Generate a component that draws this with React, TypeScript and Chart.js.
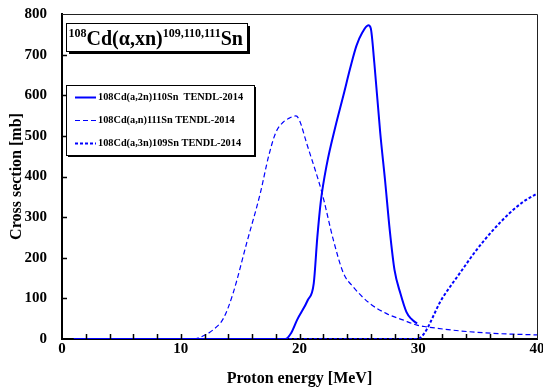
import React, { useEffect, useRef } from "react";
import { Chart, registerables } from "chart.js";

Chart.register(...registerables);

// (a,2n)110Sn – solid
const energy2n = [1, 18.8, 19.3, 19.8, 20.7, 21.2, 21.5, 21.8, 22.3, 23.0, 23.7, 24.3, 24.8, 25.3, 25.8, 26.0, 26.3, 26.8, 27.2, 27.6, 28.0, 28.5, 29.0, 29.4, 29.9];
const sigma2n = [0, 0, 15, 47, 96, 137, 250, 340, 430, 520, 600, 670, 722, 755, 772, 765, 680, 507, 392, 268, 170, 112, 67, 50, 38];

// (a,n)111Sn – dashed
const energy1n = [1, 10.8, 11.6, 12.7, 13.6, 14.4, 15.55, 16.7, 17.4, 18.0, 18.6, 19.1, 19.7, 20.0, 20.6, 21.9, 22.85, 23.7, 24.5, 25.9, 27.3, 28.7, 29.9, 30.7, 33.5, 36.3, 40];
const sigma1n = [0, 0, 4, 22, 51, 112, 236, 359, 450, 508, 533, 543, 549, 538, 482, 359, 244, 162, 129, 88, 63, 47, 34, 30, 20, 14, 10];

// (a,3n)109Sn – dotted
const energy3n = [1, 29.9, 32.1, 33.5, 34.9, 36.3, 37.7, 38.85, 40];
const sigma3n = [0, 0, 104, 162, 219, 268, 310, 338, 358];

const legendLabels = [
  "108Cd(a,2n)110Sn  TENDL-2014",
  "108Cd(a,n)111Sn TENDL-2014",
  "108Cd(a,3n)109Sn TENDL-2014",
];

const xTitle = "Proton energy [MeV]";
const yTitle = "Cross section [mb]";

const SERIF = "'Liberation Serif', 'Times New Roman', serif";
const BLUE = "#0000ff";

const toPts = (xs: number[], ys: number[]) => xs.map((x, i) => ({ x, y: ys[i] }));

const decorPlugin = {
  id: "decor",
  afterDraw(chart: any) {
    const ctx: CanvasRenderingContext2D = chart.ctx;
    const { left, right, top, bottom } = chart.chartArea;
    const xs = chart.scales.x;
    const ys = chart.scales.y;
    ctx.save();
    // top & right frame
    ctx.strokeStyle = "#222";
    ctx.lineWidth = 1;
    ctx.beginPath();
    ctx.moveTo(left, top + 0.5);
    ctx.lineTo(right + 0.5, top + 0.5);
    ctx.lineTo(right + 0.5, bottom);
    ctx.stroke();
    // inward ticks
    ctx.strokeStyle = "#000";
    ctx.lineWidth = 1.5;
    ctx.beginPath();
    for (let v = 2; v < 40; v += 2) {
      const px = Math.round(xs.getPixelForValue(v)) + 0.5;
      ctx.moveTo(px, bottom);
      ctx.lineTo(px, bottom - 5);
    }
    for (let v = 100; v < 800; v += 100) {
      const py = Math.round(ys.getPixelForValue(v)) + 0.5;
      ctx.moveTo(left, py);
      ctx.lineTo(left + 5, py);
    }
    ctx.stroke();

    // title box
    const tb = { x: 66, y: 23, w: 181, h: 28 };
    ctx.fillStyle = "#000";
    ctx.fillRect(tb.x + 3, tb.y + 3, tb.w, tb.h);
    ctx.fillStyle = "#fff";
    ctx.fillRect(tb.x, tb.y, tb.w, tb.h);
    ctx.strokeStyle = "#000";
    ctx.lineWidth = 1;
    ctx.strokeRect(tb.x + 0.5, tb.y + 0.5, tb.w, tb.h);
    const parts: [string, number, number][] = [
      ["108", 12, -8],
      ["Cd(", 20, 0],
      ["\u03B1", 20, 0],
      [",xn)", 20, 0],
      ["109,110,111", 12, -8],
      ["Sn", 20, 0],
    ];
    let cx = 68.5;
    const base = 45;
    ctx.fillStyle = "#000";
    ctx.textBaseline = "alphabetic";
    ctx.textAlign = "left";
    for (const [t, size, dy] of parts) {
      ctx.font = `bold ${size}px ${SERIF}`;
      ctx.fillText(t, cx, base + dy);
      cx += ctx.measureText(t).width;
    }

    // legend box
    const lb = { x: 66, y: 85, w: 188, h: 70 };
    ctx.fillStyle = "#000";
    ctx.fillRect(lb.x + 2, lb.y + 2, lb.w, lb.h);
    ctx.fillStyle = "#fff";
    ctx.fillRect(lb.x, lb.y, lb.w, lb.h);
    ctx.strokeStyle = "#000";
    ctx.lineWidth = 1;
    ctx.strokeRect(lb.x + 0.5, lb.y + 0.5, lb.w, lb.h);
    const rowY = [97.5, 120.5, 143.5];
    chart.data.datasets.forEach((ds: any, i: number) => {
      ctx.strokeStyle = ds.borderColor;
      ctx.lineWidth = ds.borderWidth;
      ctx.setLineDash(ds.borderDash || []);
      ctx.beginPath();
      ctx.moveTo(75, rowY[i]);
      ctx.lineTo(96, rowY[i]);
      ctx.stroke();
      ctx.setLineDash([]);
      ctx.fillStyle = "#000";
      ctx.font = `bold 10.3px ${SERIF}`;
      ctx.textBaseline = "middle";
      ctx.fillText(ds.label, 98, rowY[i]);
    });
    ctx.restore();
  },
};

export default function App() {
  const ref = useRef<HTMLCanvasElement | null>(null);
  useEffect(() => {
    if (!ref.current) return;
    const chart = new Chart(ref.current, {
      type: "line",
      data: {
        datasets: [
          {
            label: legendLabels[0],
            data: toPts(energy2n, sigma2n),
            borderColor: BLUE,
            borderWidth: 2,
            borderDash: [],
            pointRadius: 0,
            cubicInterpolationMode: "monotone",
            fill: false,
          },
          {
            label: legendLabels[1],
            data: toPts(energy1n, sigma1n),
            borderColor: BLUE,
            borderWidth: 1.2,
            borderDash: [5, 3],
            pointRadius: 0,
            cubicInterpolationMode: "monotone",
            fill: false,
          },
          {
            label: legendLabels[2],
            data: toPts(energy3n, sigma3n),
            borderColor: BLUE,
            borderWidth: 2,
            borderDash: [3, 2],
            pointRadius: 0,
            cubicInterpolationMode: "monotone",
            fill: false,
          },
        ],
      },
      options: {
        animation: false,
        responsive: false,
        maintainAspectRatio: false,
        layout: { padding: { top: 14, right: 6, left: 0, bottom: 0 } },
        plugins: { legend: { display: false }, tooltip: { enabled: false }, title: { display: false } },
        scales: {
          x: {
            type: "linear",
            min: 0,
            max: 40,
            ticks: {
              stepSize: 10,
              padding: 1,
              color: "#000",
              font: { family: SERIF, size: 15, weight: "bold" },
              maxRotation: 0,
            },
            grid: { display: false, drawTicks: false },
            border: { display: true, color: "#000", width: 2 },
            title: {
              display: true,
              text: xTitle,
              color: "#000",
              font: { family: SERIF, size: 16, weight: "bold" },
              padding: { top: 0, bottom: 2 },
            },
            afterFit: (s: any) => {
              s.height = 51;
              s.paddingLeft = 0;
              s.paddingRight = 0;
            },
          },
          y: {
            type: "linear",
            min: 0,
            max: 800,
            ticks: {
              stepSize: 100,
              padding: 15,
              color: "#000",
              font: { family: SERIF, size: 15, weight: "bold" },
            },
            grid: { display: false, drawTicks: false },
            border: { display: true, color: "#000", width: 2 },
            title: {
              display: true,
              text: yTitle,
              color: "#000",
              font: { family: SERIF, size: 16, weight: "bold" },
              padding: { top: 7, bottom: 0 },
            },
            afterFit: (s: any) => {
              s.width = 62;
              s.paddingTop = 0;
              s.paddingBottom = 0;
            },
          },
        },
      },
      plugins: [decorPlugin],
    } as any);
    return () => chart.destroy();
  }, []);
  return (
    <div style={{ position: "fixed", left: 0, top: 0, width: 543, height: 390, background: "#fff" }}>
      <canvas ref={ref} width={543} height={390} style={{ width: 543, height: 390 }} />
    </div>
  );
}
